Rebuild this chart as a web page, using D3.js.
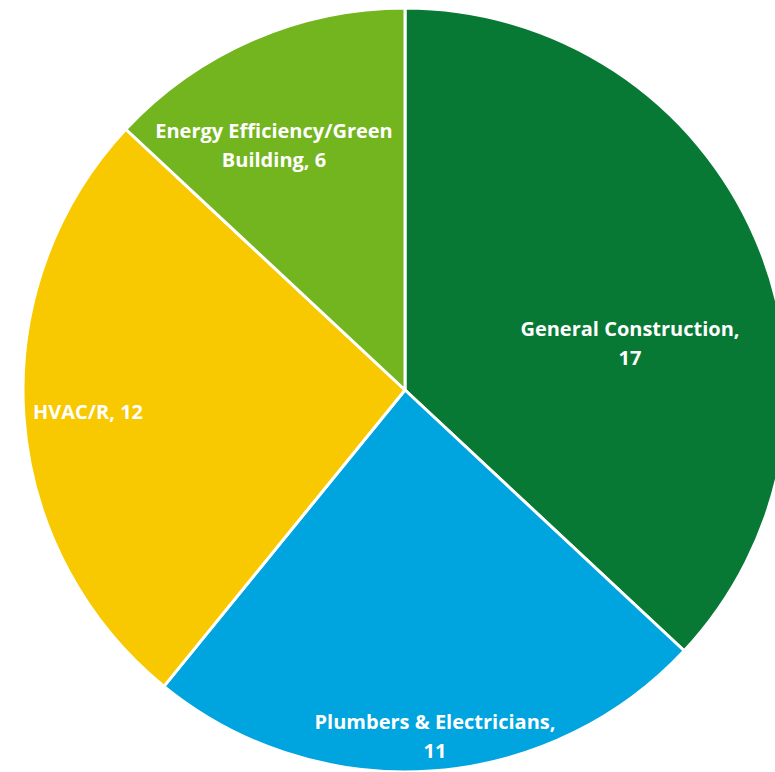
<!DOCTYPE html>
<html>
<head>
<meta charset="utf-8">
<script src="https://cdn.jsdelivr.net/npm/d3@7"></script>
<style>
  html, body { margin: 0; padding: 0; background: #ffffff; }
  svg { display: block; }
  .lbl { font-family: "Open Sans", Lato, sans-serif; font-weight: 700; font-size: 20px; fill: #ffffff; }
</style>
</head>
<body>
<svg id="chart" width="775" height="772"></svg>
<script>
// Training programmes by sector
const categories = ["General Construction", "Plumbers & Electricians", "HVAC/R", "Energy Efficiency/Green Building"];
const values = [17, 11, 12, 6];
const colors = ["#077934", "#00A4DE", "#F8C800", "#72B51E"];
// label lines as drawn on each slice
const labelLines = [
  ["General Construction,", "17"],
  ["Plumbers & Electricians,", "11"],
  ["HVAC/R, 12"],
  ["Energy Efficiency/Green", "Building, 6"]
];
// label anchor points (centre of the text block)
const labelPos = [[630, 342], [435, 735], [88, 411], [274, 144]];

const svg = d3.select("#chart");
const cx = 405, cy = 390, r = 382;

const data = categories.map((c, i) => ({ category: c, value: values[i] }));
const pie = d3.pie().value(d => d.value).sort(null);
const arc = d3.arc().innerRadius(0).outerRadius(r);

const g = svg.append("g").attr("transform", `translate(${cx},${cy})`);
g.selectAll("path")
  .data(pie(data))
  .join("path")
  .attr("d", arc)
  .attr("fill", (d, i) => colors[i])
  .attr("stroke", "#ffffff")
  .attr("stroke-width", 3)
  .attr("stroke-linejoin", "round");

const lineH = 29;
data.forEach((d, i) => {
  const lines = labelLines[i];
  const [x, y] = labelPos[i];
  const t = svg.append("text")
    .attr("class", "lbl")
    .attr("text-anchor", "middle")
    .attr("x", x)
    .attr("y", y - (lines.length - 1) * lineH / 2)
    .attr("dominant-baseline", "central");
  lines.forEach((ln, k) => {
    t.append("tspan").attr("x", x).attr("dy", k === 0 ? 0 : lineH).text(ln);
  });
});
</script>
</body>
</html>
